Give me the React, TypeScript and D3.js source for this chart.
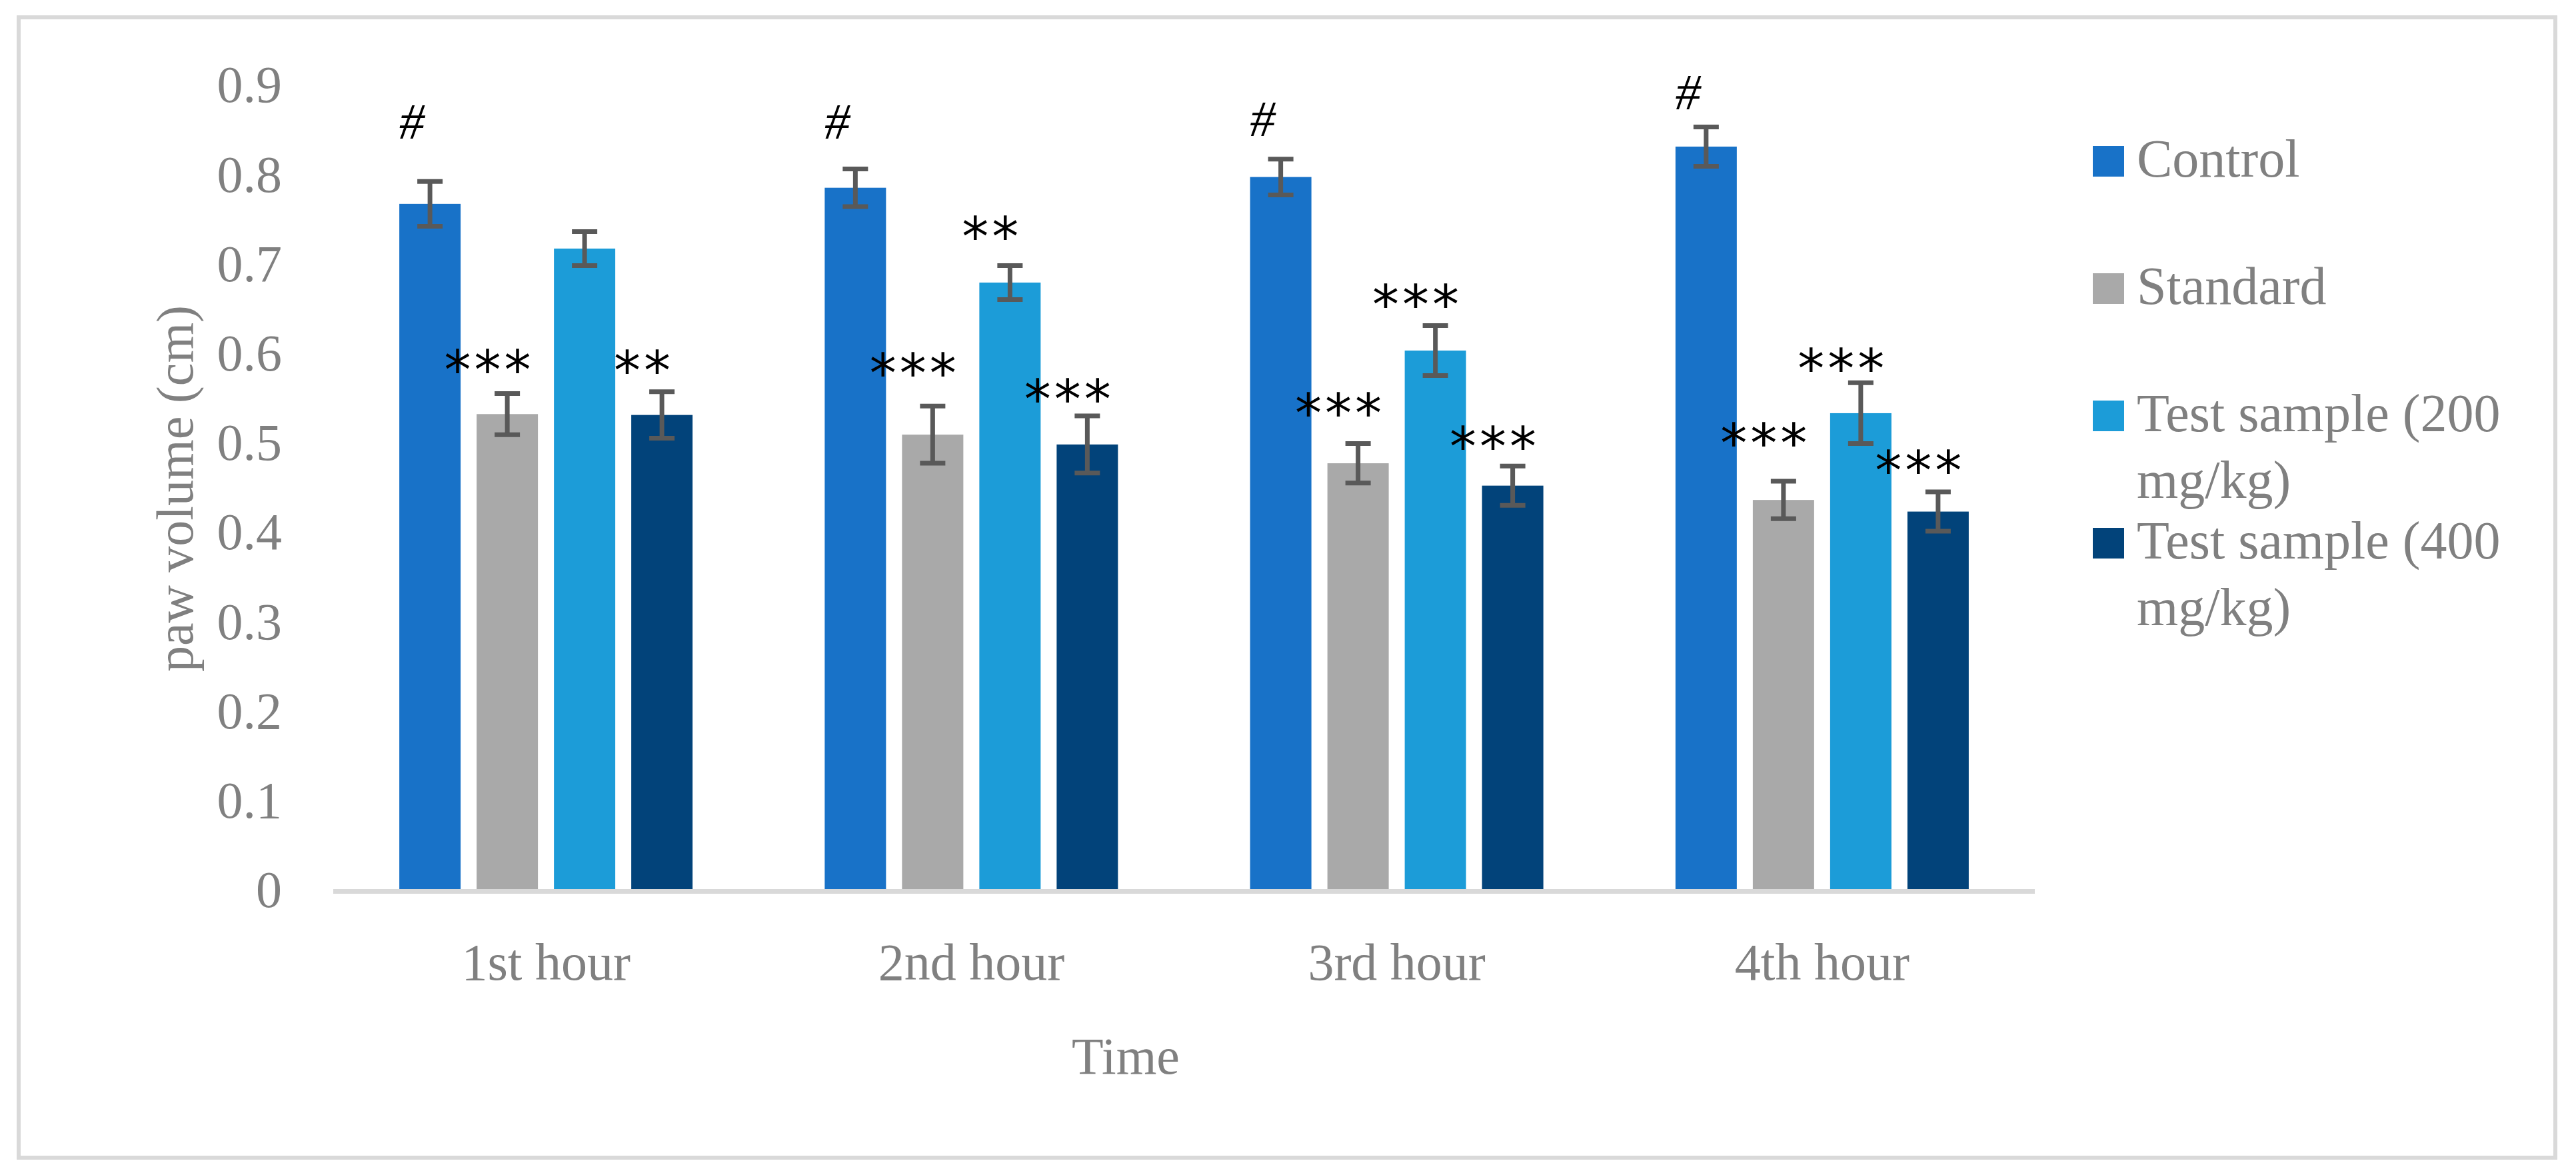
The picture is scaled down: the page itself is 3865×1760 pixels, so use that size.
import React, { useEffect } from 'react';
import * as d3 from 'd3';

// categories and series
const hours = ['1st hour', '2nd hour', '3rd hour', '4th hour'];
const groups = ['Control', 'Standard', 'Test sample (200 mg/kg)', 'Test sample (400 mg/kg)'];
const legendLines = [['Control'], ['Standard'], ['Test sample (200', 'mg/kg)'], ['Test sample (400', 'mg/kg)']];

const control = [0.766, 0.784, 0.796, 0.83];
const standard = [0.531, 0.508, 0.476, 0.435];
const test200 = [0.716, 0.678, 0.602, 0.532];
const test400 = [0.53, 0.497, 0.451, 0.422];

const controlErr = [0.025, 0.021, 0.02, 0.022];
const standardErr = [0.023, 0.032, 0.022, 0.021];
const test200Err = [0.019, 0.019, 0.028, 0.034];
const test400Err = [0.026, 0.032, 0.022, 0.022];

// significance marks and the value level they sit at
const controlMark = ['#', '#', '#', '#'];
const standardMark = ['***', '***', '***', '***'];
const test200Mark = ['', '**', '***', '***'];
const test400Mark = ['**', '***', '***', '***'];
const controlMarkAt = [0.839, 0.839, 0.842, 0.872];
const standardMarkAt = [0.58, 0.576, 0.531, 0.498];
const test200MarkAt = [0, 0.729, 0.653, 0.581];
const test400MarkAt = [0.579, 0.547, 0.494, 0.467];

const yTicks = [0, 0.1, 0.2, 0.3, 0.4, 0.5, 0.6, 0.7, 0.8, 0.9];

const colors = ['#1872C8', '#A9A9A9', '#1C9CD8', '#02437A'];

const W = 3865;
const H = 1760;
const font = "'Palatino Linotype', 'Book Antiqua', Palatino, 'Liberation Serif', serif";
const grey = '#808080';

const series = [control, standard, test200, test400];
const errs = [controlErr, standardErr, test200Err, test400Err];
const marks = [controlMark, standardMark, test200Mark, test400Mark];
const marksAt = [controlMarkAt, standardMarkAt, test200MarkAt, test400MarkAt];

const App: React.FC = () => {
  useEffect(() => {
    document.body.style.margin = '0';
  }, []);

  const x0 = d3.scaleBand<string>().domain(hours).range([500, 3053]).paddingInner(0.273).paddingOuter(0.1365);
  const x1 = d3
    .scaleBand<string>()
    .domain(groups)
    .range([0, x0.bandwidth()])
    .paddingInner(0.207)
    .paddingOuter(0.1035);
  const y = d3.scaleLinear().domain([0, 0.9]).range([1334, 126]);

  const capW = 38;

  return (
    <svg width={W} height={H} style={{ display: 'block', background: '#fff' }} fontFamily={font}>
      <rect x={28} y={26} width={3806} height={1711} fill="#fff" stroke="#D9D9D9" strokeWidth={6} />

      {/* y tick labels */}
      {yTicks.map((t) => (
        <text key={t} x={423} y={y(t)} dy="0.35em" textAnchor="end" fontSize={78} fill={grey}>
          {d3.format('~g')(t)}
        </text>
      ))}

      {/* bars */}
      {hours.map((h, i) => (
        <g key={h} transform={`translate(${x0(h)},0)`}>
          {groups.map((g, s) => {
            const v = series[s][i];
            const e = errs[s][i];
            const bx = x1(g)!;
            const cx = bx + x1.bandwidth() / 2;
            const m = marks[s][i];
            const isHash = m === '#';
            return (
              <g key={g}>
                <rect x={bx} y={y(v)} width={x1.bandwidth()} height={y(0) - y(v)} fill={colors[s]} />
                <g stroke="#595959" strokeWidth={7}>
                  <line x1={cx} x2={cx} y1={y(v + e)} y2={y(v - e)} />
                  <line x1={cx - capW / 2} x2={cx + capW / 2} y1={y(v + e)} y2={y(v + e)} />
                  <line x1={cx - capW / 2} x2={cx + capW / 2} y1={y(v - e)} y2={y(v - e)} />
                </g>
                {m && (
                  <text
                    x={cx - 27}
                    y={y(marksAt[s][i]) + (isHash ? 0 : 27)}
                    textAnchor="middle"
                    fontSize={isHash ? 76 : 80}
                    fontFamily={isHash ? font : "'DejaVu Sans', sans-serif"}
                    fontStyle={isHash ? 'italic' : 'normal'}
                    letterSpacing={isHash ? 0 : 5}
                    fill="#000"
                  >
                    {m}
                  </text>
                )}
              </g>
            );
          })}
        </g>
      ))}

      {/* x axis line */}
      <line x1={500} x2={3053} y1={1337.5} y2={1337.5} stroke="#D9D9D9" strokeWidth={7} />

      {/* category labels */}
      {hours.map((h) => (
        <text key={h} x={x0(h)! + x0.bandwidth() / 2} y={1470} textAnchor="middle" fontSize={78} fill={grey}>
          {h}
        </text>
      ))}

      {/* axis titles */}
      <text x={1689} y={1611} textAnchor="middle" fontSize={78} fill={grey}>
        Time
      </text>
      <text transform="translate(289,733) rotate(-90)" textAnchor="middle" fontSize={78} fill={grey}>
        paw volume (cm)
      </text>

      {/* legend */}
      {groups.map((g, s) => {
        const base = 265 + s * 191;
        return (
          <g key={g}>
            <rect x={3140} y={base - 46} width={47} height={46} fill={colors[s]} />
            <text x={3206} y={base} fontSize={80} fill={grey}>
              {legendLines[s].map((ln, k) => (
                <tspan key={k} x={3206} dy={k === 0 ? 0 : 100}>
                  {ln}
                </tspan>
              ))}
            </text>
          </g>
        );
      })}
    </svg>
  );
};

export default App;
